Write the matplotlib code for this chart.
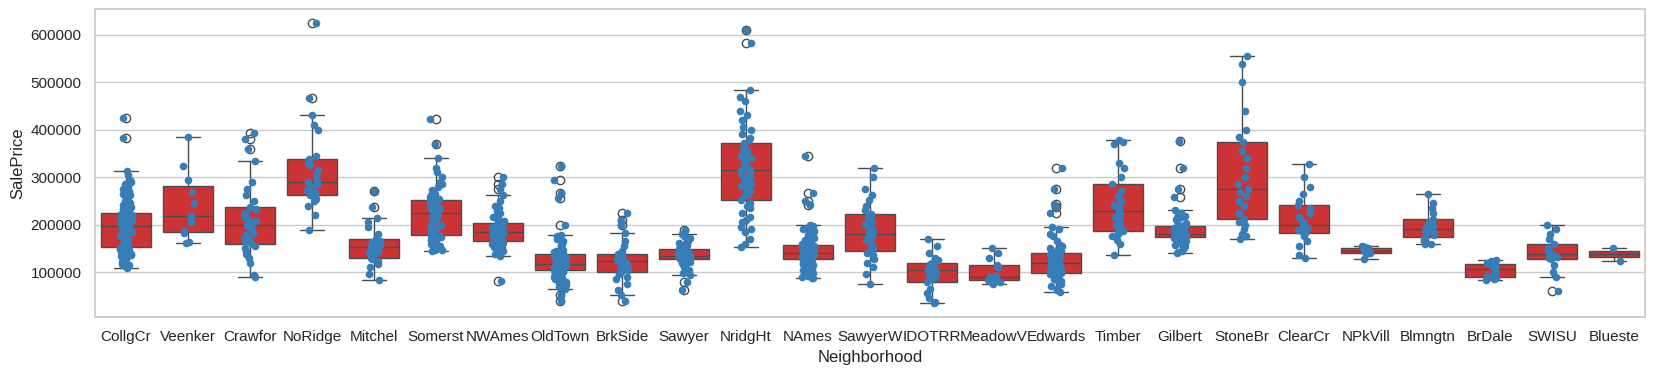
import numpy as np
import pandas as pd
import seaborn as sns
import matplotlib.pyplot as plt

# SalePrice per neighborhood, in thousands
CollgCr = [108, 115, 125, 130, 135, 139, 142, 145, 148, 150, 151, 152, 153, 158, 165, 172, 178,
           182, 185, 188, 191, 193, 195, 196, 197, 199, 201, 203, 205, 207, 209, 212, 215, 218,
           221, 223, 224, 228, 235, 242, 250, 258, 265, 275, 285, 295, 313, 383, 425,
           112, 118, 122, 128, 133, 137, 140, 143, 146, 147, 149, 150,
           155, 160, 162, 168, 170, 175, 180, 184, 187, 190, 192, 194,
           198, 200, 202, 204, 206, 208, 210, 211, 214, 217, 220, 222,
           226, 230, 232, 238, 245, 248, 255, 262, 270, 280, 290, 305]
Veenker = [161, 163, 182, 187, 205, 218, 245, 268, 294, 323, 385]
Crawfor = [90, 93, 120, 130, 138, 145, 150, 155, 159, 163, 168, 172, 178, 183, 188, 193, 199,
           203, 207, 210, 215, 220, 225, 232, 238, 250, 262, 275, 290, 334, 360, 381, 393]
NoRidge = [189, 220, 240, 250, 255, 260, 262, 268, 272, 276, 280, 285, 290, 295, 305, 315, 325,
           330, 338, 345, 400, 410, 430, 467, 625]
Mitchel = [83, 95, 110, 118, 123, 127, 130, 133, 137, 141, 145, 149, 153, 155, 158, 160, 163,
           166, 170, 180, 195, 205, 214, 238, 271]
Somerst = [144, 147, 150, 155, 160, 165, 170, 173, 176, 178, 185, 192, 198, 205, 210, 214, 218,
           221, 224, 227, 230, 233, 236, 240, 243, 246, 249, 252, 258, 265, 272, 280, 290, 310,
           340, 370, 423,
           146, 152, 158, 168, 172, 177, 182, 190, 200, 208, 216, 222,
           226, 232, 238, 242, 247, 250, 255, 262, 268, 285, 300, 320]
NWAmes = [82, 134, 140, 147, 152, 156, 159, 162, 165, 168, 171, 174, 176, 178, 180, 182, 184,
          186, 188, 190, 193, 196, 199, 202, 204, 210, 218, 228, 240, 262, 275, 285, 300,
          137, 145, 150, 158, 163, 166, 170, 175, 179, 183,
          185, 189, 192, 198, 201, 207, 215, 225, 235, 250]
OldTown = [38, 52, 65, 75, 82, 88, 93, 96, 99, 102, 104, 106, 108, 109, 110, 111, 112, 113,
           114, 115, 117, 119, 121, 123, 125, 127, 129, 131, 133, 135, 138, 142, 147, 155, 165,
           178, 200, 256, 266, 295, 324,
           68, 72, 80, 86, 90, 95, 98, 101, 105, 107, 109.5, 111.5, 113.5, 115.5, 116, 116.5,
           118, 120, 122, 126, 128, 130, 134, 136, 140, 144, 145, 150, 158, 160, 170, 175]
BrkSide = [40, 52, 62, 75, 85, 90, 96, 100, 104, 108, 112, 115, 118, 121, 123, 125, 127, 129,
           132, 134, 137, 139, 145, 155, 165, 182, 199, 210, 224]
Sawyer = [63, 78, 94, 105, 115, 120, 124, 127, 128, 129, 130, 131, 132, 133, 134, 136, 138,
          140, 142, 144, 147, 149, 152, 155, 160, 165, 172, 180, 189,
          98, 110, 118, 122, 126, 127.5, 128.5, 130.5, 132.5, 133.5,
          135, 137, 141, 145, 148, 150, 158, 162, 168, 175]
NridgHt = [153, 170, 185, 195, 205, 215, 225, 235, 245, 252, 262, 270, 278, 285, 292, 298, 304,
           310, 315, 320, 326, 332, 338, 345, 352, 360, 366, 372, 382, 392, 405, 420, 440, 460,
           484, 583, 611,
           160, 190, 210, 240, 265, 282, 300, 312, 323, 340, 355, 368, 378, 400, 430, 470]
NAmes = [87, 90, 94, 98, 102, 106, 109, 112, 114, 116, 118, 120, 122, 124, 126, 127, 128, 129,
         130, 131, 132, 133, 134, 135, 136, 137, 137.5, 138, 138.5, 139, 140, 141, 142, 143, 144,
         145, 146, 147, 148, 149, 150, 151.5, 153, 154.5, 156, 157, 160, 163, 166, 170, 174,
         178, 182, 186, 190, 195, 200, 242, 249, 266, 345,
         88, 92, 96, 100, 104, 108, 111, 115, 119, 123,
         127.8, 128.5, 130.5, 132.5, 134.5, 135.5, 136.5, 138.2, 139.2, 139.6,
         140.5, 141.5, 143.5, 145.5, 147.5, 149.5, 150.5, 152, 155, 156.5,
         158, 162, 165, 168, 172, 176, 180, 185, 192, 198]
SawyerW = [75, 95, 110, 120, 128, 135, 140, 144, 150, 157, 163, 168, 172, 176, 180, 185, 190,
           195, 202, 208, 215, 222, 230, 240, 252, 262, 275, 300, 319]
IDOTRR = [35, 37, 45, 55, 65, 78, 85, 90, 95, 100, 104, 107, 110, 113, 116, 120, 125, 130, 140,
          155, 170]
MeadowV = [75, 76, 80, 84, 85, 87, 89, 91, 110, 115, 130, 140, 151]
Edwards = [58, 62, 70, 78, 84, 88, 91, 93, 95, 97, 99, 101, 103, 105, 107, 109, 111, 113, 115,
           117, 119, 121, 123, 125, 127, 129, 131, 134, 137, 139, 141, 145, 150, 158, 180, 196,
           224, 237, 244, 275, 319,
           65, 75, 82, 86, 90, 96, 100, 104, 108, 112, 116, 118,
           120, 124, 128, 132, 136, 140, 143, 148, 155, 165, 175, 190]
Timber = [135, 160, 168, 175, 180, 184, 186, 192, 200, 208, 215, 222, 228, 235, 242, 250, 260,
          270, 285, 300, 320, 330, 370, 375, 378]
Gilbert = [140, 145, 150, 157, 162, 166, 169, 172, 174, 175, 176, 177, 178, 178.5, 179, 179.5,
           180, 182, 184, 186, 188, 190, 192, 194, 197, 200, 212, 222, 230, 259, 275, 319, 376,
           143, 155, 160, 165, 170, 173, 174.5, 175.5, 176.5, 177.5, 178.2, 179.8,
           181, 183, 187, 191, 193, 196, 199, 203, 208, 215, 218, 225]
StoneBr = [170, 175, 180, 190, 200, 205, 212, 225, 240, 250, 260, 268, 275, 285, 300, 320, 340,
           355, 374, 385, 400, 440, 500, 538, 555]
ClearCr = [130, 135, 155, 165, 175, 182, 185, 188, 192, 195, 199, 205, 215, 225, 235, 241, 250,
           265, 280, 300, 328]
NPkVill = [127.5, 138, 140, 142, 144.5, 148, 150, 152, 155]
Blmngtn = [159, 160, 165, 170, 174, 178, 182, 186, 191, 194, 198, 205, 212, 225, 235, 245, 265]
BrDale = [83, 85, 88, 89.5, 92, 98, 105.5, 108, 113, 117, 120, 124, 126]
SWISU = [60, 90, 100, 115, 127, 130, 132, 135, 138, 142, 145, 150, 159, 170, 180, 190, 199]
Blueste = [124, 151]

neighborhoods = {
    'CollgCr': CollgCr, 'Veenker': Veenker, 'Crawfor': Crawfor, 'NoRidge': NoRidge,
    'Mitchel': Mitchel, 'Somerst': Somerst, 'NWAmes': NWAmes, 'OldTown': OldTown,
    'BrkSide': BrkSide, 'Sawyer': Sawyer, 'NridgHt': NridgHt, 'NAmes': NAmes,
    'SawyerW': SawyerW, 'IDOTRR': IDOTRR, 'MeadowV': MeadowV, 'Edwards': Edwards,
    'Timber': Timber, 'Gilbert': Gilbert, 'StoneBr': StoneBr, 'ClearCr': ClearCr,
    'NPkVill': NPkVill, 'Blmngtn': Blmngtn, 'BrDale': BrDale, 'SWISU': SWISU,
    'Blueste': Blueste,
}

rows = [(k, v * 1000) for k, vals in neighborhoods.items() for v in vals]
df = pd.DataFrame(rows, columns=['Neighborhood', 'SalePrice'])

sns.set_theme(style='whitegrid')
plt.rcParams['font.family'] = ['Liberation Sans', 'DejaVu Sans']

pal = sns.color_palette('Set1')
fig, ax = plt.subplots(figsize=(16.54, 3.75), dpi=100)
sns.boxplot(data=df, x='Neighborhood', y='SalePrice', color=pal[0], ax=ax)
np.random.seed(3)
sns.stripplot(data=df, x='Neighborhood', y='SalePrice', color=pal[1], size=5.5, ax=ax)

plt.subplots_adjust(left=0.0574, right=0.9946, top=0.976, bottom=0.155)
plt.savefig('out.png')
